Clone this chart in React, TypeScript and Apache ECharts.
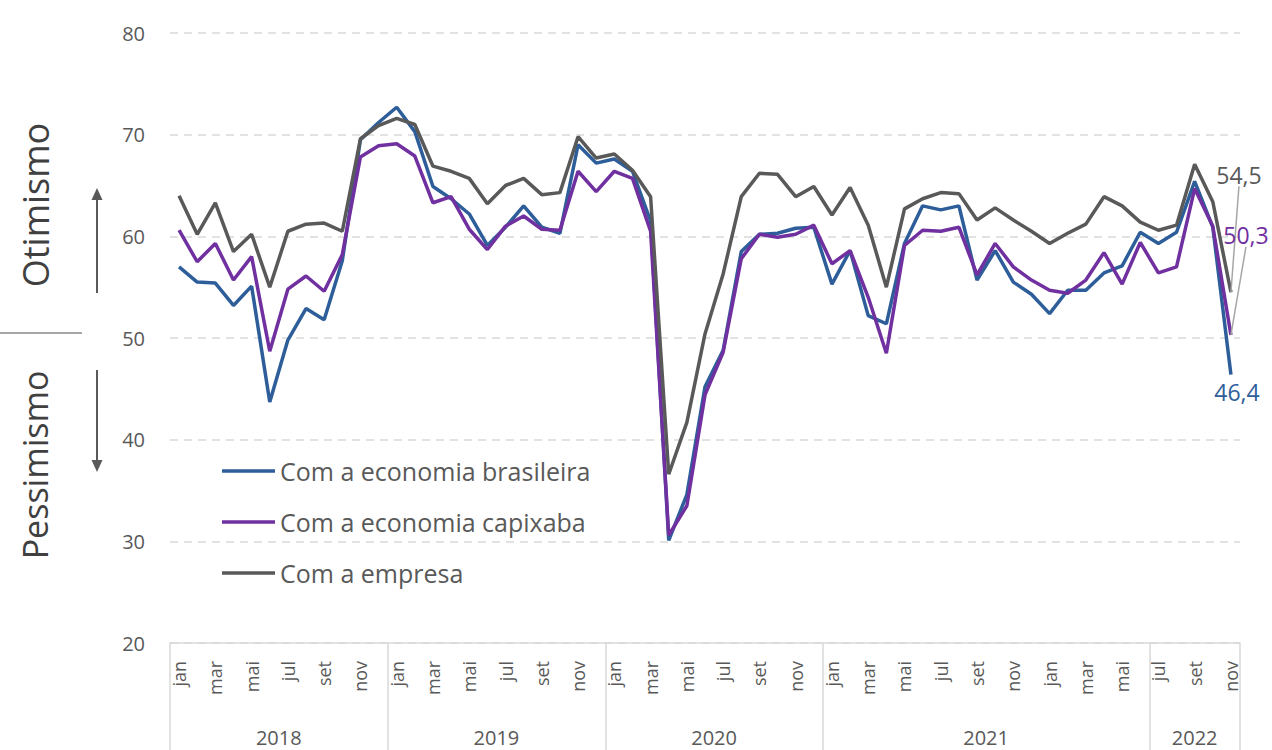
import React, { useEffect, useRef } from "react";
import * as echarts from "echarts";

const categories = [
  "jan","fev","mar","abr","mai","jun","jul","ago","set","out","nov","dez",
  "jan","fev","mar","abr","mai","jun","jul","ago","set","out","nov","dez",
  "jan","fev","mar","abr","mai","jun","jul","ago","set","out","nov","dez",
  "jan","fev","mar","abr","mai","jun","jul","ago","set","out","nov","dez",
  "jan","fev","mar","abr","mai","jun",
  "jul","ago","set","out","nov",
];

const yearLabels = ["2018", "2019", "2020", "2021", "2022"];
const yearBounds = [0, 12, 24, 36, 54, 59];

const brasileira = [
  57.0, 55.5, 55.4, 53.2, 55.1, 43.7, 49.8, 52.9, 51.8, 57.6, 69.5, 71.2,
  72.7, 70.3, 64.9, 63.7, 62.2, 59.1, 60.9, 63.0, 60.9, 60.3, 69.0, 67.2,
  67.6, 66.4, 61.5, 30.1, 34.6, 45.2, 48.8, 58.5, 60.2, 60.3, 60.8, 60.9,
  55.3, 58.6, 52.2, 51.4, 59.3, 63.0, 62.6, 63.0, 55.7, 58.6, 55.5, 54.3,
  52.4, 54.7, 54.7, 56.4, 57.1, 60.4,
  59.3, 60.4, 65.4, 60.9, 46.4,
];

const capixaba = [
  60.6, 57.5, 59.3, 55.7, 58.0, 48.7, 54.8, 56.1, 54.6, 58.2, 67.8, 68.9,
  69.1, 67.9, 63.3, 63.9, 60.7, 58.7, 61.0, 62.0, 60.7, 60.6, 66.4, 64.4,
  66.4, 65.7, 60.5, 30.6, 33.5, 44.4, 48.6, 57.8, 60.2, 59.9, 60.2, 61.1,
  57.3, 58.6, 54.0, 48.5, 59.1, 60.6, 60.5, 60.9, 56.2, 59.3, 57.0, 55.7,
  54.7, 54.4, 55.7, 58.4, 55.3, 59.4,
  56.4, 57.0, 64.7, 61.0, 50.3,
];

const empresa = [
  64.0, 60.2, 63.3, 58.5, 60.2, 55.0, 60.5, 61.2, 61.3, 60.5, 69.6, 70.9,
  71.6, 71.0, 66.9, 66.4, 65.7, 63.2, 65.0, 65.7, 64.1, 64.3, 69.8, 67.7,
  68.1, 66.5, 63.9, 36.6, 41.7, 50.4, 56.3, 63.9, 66.2, 66.1, 63.9, 64.9,
  62.1, 64.8, 61.1, 55.0, 62.7, 63.7, 64.3, 64.2, 61.6, 62.8, 61.6, 60.5,
  59.3, 60.3, 61.2, 63.9, 63.0, 61.4,
  60.6, 61.1, 67.1, 63.4, 54.5,
];

const seriesNames = ["Com a economia brasileira", "Com a economia capixaba", "Com a empresa"];
const seriesColors = ["#2E5E9A", "#7030A0", "#595959"];
const yTicks = { min: 20, max: 80, interval: 10 };

const FONT = "'Open Sans', 'Noto Sans', sans-serif";
const fmt = (v: number) => v.toFixed(1).replace(".", ",");

function withEndLabel(values: number[], color: string, pos: string) {
  return values.map((v, i) =>
    i === values.length - 1
      ? {
          value: v,
          label: {
            show: true,
            position: pos,
            formatter: fmt(v),
            color,
            fontSize: 23,
            fontFamily: FONT,
          },
        }
      : v
  );
}

function makeSeries(idx: number, values: number[], pos: string, dx: number, dy: number, line: boolean) {
  return {
    name: seriesNames[idx],
    type: "line",
    xAxisIndex: 0,
    symbol: "circle",
    symbolSize: 0.1,
    showSymbol: true,
    showAllSymbol: true,
    silent: true,
    lineStyle: { width: 3.5, color: seriesColors[idx] },
    itemStyle: { color: seriesColors[idx] },
    label: { show: false },
    labelLine: { show: line, lineStyle: { color: "#A6A6A6", width: 1.5 } },
    labelLayout: { dx, dy },
    data: withEndLabel(values, seriesColors[idx], pos),
  };
}

export default function App() {
  const ref = useRef<HTMLDivElement>(null);

  useEffect(() => {
    document.body.style.margin = "0";
    if (!ref.current) return;
    const chart = echarts.init(ref.current, undefined, { renderer: "svg" });
    const yearCenters = yearLabels.map((_, i) => (yearBounds[i] + yearBounds[i + 1]) / 2);

    const option: any = {
      animation: false,
      textStyle: { fontFamily: FONT },
      grid: { left: 170, right: 32, top: 33, bottom: 107, containLabel: false },
      legend: {
        orient: "vertical",
        left: 222,
        top: 457,
        padding: 0,
        icon: "rect",
        itemWidth: 53,
        itemHeight: 3.5,
        itemGap: 23,
        textStyle: { fontSize: 25, color: "#595959", fontFamily: FONT, lineHeight: 28 },
        data: seriesNames,
      },
      xAxis: [
        {
          type: "category",
          data: categories,
          boundaryGap: true,
          axisLine: { show: true, lineStyle: { color: "#D9D9D9", width: 1.5 } },
          axisTick: { show: false },
          axisLabel: {
            interval: 1,
            rotate: 90,
            margin: 18,
            fontSize: 18,
            color: "#595959",
            fontFamily: FONT,
          },
          splitLine: { show: false },
        },
        {
          type: "value",
          min: 0,
          max: 59,
          position: "bottom",
          axisLine: { show: false },
          splitLine: { show: false },
          axisTick: {
            show: true,
            customValues: yearBounds,
            length: 107,
            lineStyle: { color: "#D9D9D9", width: 1.5 },
          },
          axisLabel: {
            show: true,
            customValues: yearCenters,
            margin: 84,
            fontSize: 20,
            color: "#595959",
            fontFamily: FONT,
            formatter: (v: number) => {
              const idx = yearCenters.findIndex((c) => Math.abs(c - v) < 0.01);
              return idx >= 0 ? yearLabels[idx] : "";
            },
          },
        },
      ],
      yAxis: {
        type: "value",
        min: yTicks.min,
        max: yTicks.max,
        interval: yTicks.interval,
        axisLine: { show: false },
        axisTick: { show: false },
        axisLabel: { fontSize: 20, color: "#595959", margin: 25, fontFamily: FONT },
        splitLine: { show: true, lineStyle: { color: "#D9D9D9", width: 1.5, type: [8, 6] } },
      },
      series: [
        makeSeries(0, brasileira, "bottom", 6, 1, false),
        makeSeries(1, capixaba, "top", 15, -83, true),
        makeSeries(2, empresa, "top", 8, -101, true),
      ],
      graphic: [
        {
          type: "text",
          x: 35,
          y: 205,
          rotation: Math.PI / 2,
          style: {
            text: "Otimismo",
            fill: "#404040",
            font: `36px ${FONT}`,
            align: "center",
            verticalAlign: "middle",
          },
        },
        {
          type: "text",
          x: 35,
          y: 465,
          rotation: Math.PI / 2,
          style: {
            text: "Pessimismo",
            fill: "#404040",
            font: `34px ${FONT}`,
            align: "center",
            verticalAlign: "middle",
          },
        },
        {
          type: "line",
          shape: { x1: 0, y1: 333, x2: 82, y2: 333 },
          style: { stroke: "#A6A6A6", lineWidth: 2 },
        },
        {
          type: "line",
          shape: { x1: 97, y1: 293, x2: 97, y2: 198 },
          style: { stroke: "#595959", lineWidth: 2 },
        },
        {
          type: "polygon",
          shape: { points: [[97, 188], [91.5, 200], [102.5, 200]] },
          style: { fill: "#595959" },
        },
        {
          type: "line",
          shape: { x1: 97, y1: 370, x2: 97, y2: 461 },
          style: { stroke: "#595959", lineWidth: 2 },
        },
        {
          type: "polygon",
          shape: { points: [[97, 472], [91.5, 460], [102.5, 460]] },
          style: { fill: "#595959" },
        },
      ],
    };

    chart.setOption(option);
    return () => chart.dispose();
  }, []);

  return <div ref={ref} style={{ width: 1272, height: 750 }} />;
}
